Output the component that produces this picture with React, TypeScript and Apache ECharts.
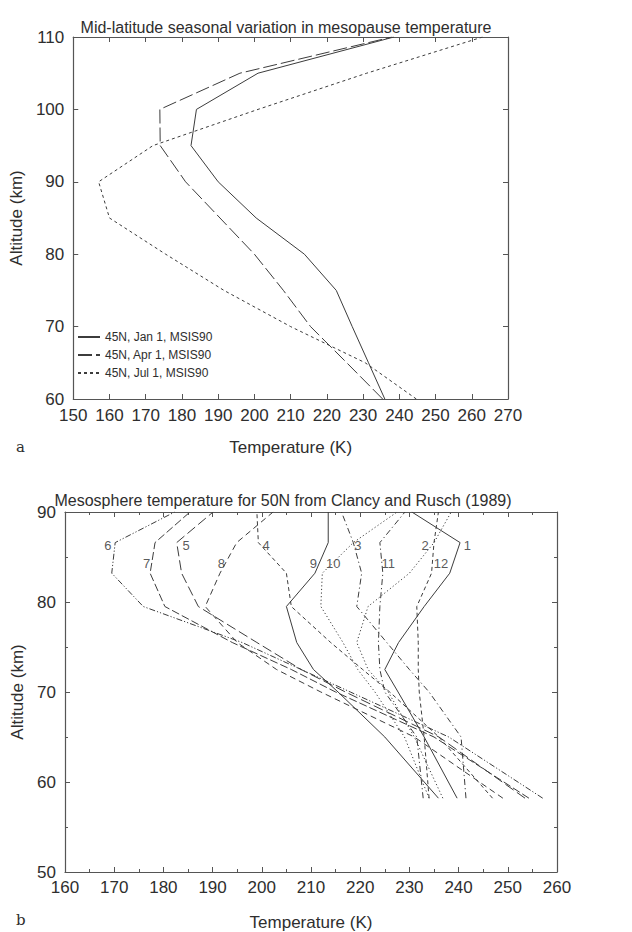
import React, { useEffect, useRef } from "react";
import * as echarts from "echarts";

// ---------- Panel a: MSIS90 45N profiles ----------
const TOP_ALT = [60, 65, 70, 75, 80, 85, 90, 95, 100, 105, 110];
const JAN_T = [236, 231.5, 227, 222.6, 213.8, 200.5, 190, 182.5, 184, 201, 238.5];
const APR_T = [235.4, 225.5, 215.5, 208, 200, 190.5, 181, 174, 173.9, 196, 238];
const JUL_T = [244.7, 230.6, 210, 191.6, 175.5, 160, 157, 172, 201, 231, 263];
const TOP_NAMES = ["45N, Jan 1, MSIS90", "45N, Apr 1, MSIS90", "45N, Jul 1, MSIS90"];

// ---------- Panel b: Clancy and Rusch (1989), 50N monthly profiles ----------
const B_ALT = [58.2, 65, 70, 72.5, 75.5, 79.5, 83.2, 86.6, 90];
const M1 = [239.7, 233, 227.7, 225, 227.8, 233, 238.2, 240.3, 230.5];
const M2 = [236.8, 231, 225.7, 221.6, 219.3, 221.6, 230, 235, 238.5];
const M3 = [241.5, 240.5, 234, 230, 225.4, 219.3, 220.3, 218.6, 216.2];
const M4 = [246.9, 236, 226, 220.5, 214, 206, 205, 199.3, 199];
const M5 = [253.5, 236, 217, 208, 199, 187.1, 183.7, 182.7, 190.1];
const M6 = [257.1, 238, 218, 208, 196, 175.9, 169.5, 170.2, 182.3];
const M7 = [254.3, 235, 215, 206, 194, 180.3, 177.3, 178.3, 185.4];
const M8 = [249, 231, 212, 203, 195, 188.5, 191.5, 194.9, 202.3];
const M9 = [235.9, 225, 215.5, 210.5, 207.1, 205, 210.8, 213.5, 213.5];
const M10 = [234, 229, 223, 219.5, 216.5, 212, 212.3, 218.6, 227.5];
const M11 = [232.8, 231.5, 225, 224, 223.7, 224, 224.6, 224, 229.1];
const M12 = [234, 233, 232, 231.8, 231.8, 231.5, 234.5, 235, 235.9];
const MONTHS = [M1, M2, M3, M4, M5, M6, M7, M8, M9, M10, M11, M12];
const MONTH_NAMES = ["1", "2", "3", "4", "5", "6", "7", "8", "9", "10", "11", "12"];
// label anchor positions (temperature K, altitude km)
const LABEL_T = [241.8, 233.2, 219.5, 200.9, 184.6, 168.7, 176.6, 191.8, 210.5, 214.5, 225.7, 236.4];
const LABEL_ALT = [86.3, 86.3, 86.3, 86.3, 86.3, 86.3, 84.3, 84.3, 84.3, 84.3, 84.3, 84.3];

const FONT = "'Liberation Sans', Arial, Helvetica, sans-serif";
const INK = "#3c3c3c";
const TXT = "#2e2e2e";

const DASHES: any[] = [
  "solid",
  [1.2, 2.4],
  [6, 3, 1.2, 3],
  [4, 3],
  [10, 4],
  [6, 2, 1.2, 2, 1.2, 2],
  [8, 3],
  [6, 4],
];

function zip(ts: number[], alts: number[]) {
  return ts.map((t, i) => [t, alts[i]]);
}

export default function App() {
  const ref = useRef<HTMLDivElement>(null);
  useEffect(() => {
    if (!ref.current) return;
    const chart = echarts.init(ref.current, undefined, { renderer: "svg" });

    const axisCommon = (grid: number) => ({
      gridIndex: grid,
      type: "value",
      axisLine: { show: true, onZero: false, lineStyle: { color: "#555", width: 1.2 } },
      axisTick: { show: true, inside: true, length: 5, lineStyle: { color: "#555" } },
      splitLine: { show: false },
    });

    const topSeries = [JAN_T, APR_T, JUL_T].map((ts, i) => ({
      name: TOP_NAMES[i],
      type: "line",
      xAxisIndex: 0,
      yAxisIndex: 0,
      symbol: "none",
      data: zip(ts, TOP_ALT),
      lineStyle: {
        color: INK,
        width: 1,
        type: i === 0 ? "solid" : i === 1 ? [14, 4] : [3, 3],
      },
      itemStyle: { color: INK },
    }));

    const bottomSeries = MONTHS.map((ts, i) => ({
      name: "M" + MONTH_NAMES[i],
      type: "line",
      xAxisIndex: 2,
      yAxisIndex: 2,
      symbol: "none",
      data: zip(ts, B_ALT),
      lineStyle: { color: INK, width: 1, type: DASHES[i % 8] },
      itemStyle: { color: INK },
    }));

    const labelSeries = {
      name: "month labels",
      type: "scatter",
      xAxisIndex: 2,
      yAxisIndex: 2,
      symbolSize: 0,
      itemStyle: { color: "#ffffff" },
      data: LABEL_T.map((t, i) => ({ value: [t, LABEL_ALT[i]], name: MONTH_NAMES[i] })),
      label: {
        show: true,
        position: "inside",
        formatter: (p: any) => p.name,
        fontFamily: FONT,
        fontSize: 13,
        color: TXT,
        textBorderWidth: 0,
        textBorderColor: "transparent",
      },
      silent: true,
    };

    chart.setOption({
      animation: false,
      backgroundColor: "#ffffff",
      textStyle: { fontFamily: FONT },
      title: [
        {
          text: "Mid-latitude seasonal variation in mesopause temperature",
          left: 281,
          top: 14,
          textAlign: "center",
          textStyle: { fontFamily: FONT, fontSize: 16, fontWeight: "normal", color: TXT },
        },
        {
          text: "Mesosphere temperature for 50N from Clancy and Rusch (1989)",
          left: 278,
          top: 487,
          textAlign: "center",
          textStyle: { fontFamily: FONT, fontSize: 16, fontWeight: "normal", color: TXT },
        },
      ],
      legend: {
        data: TOP_NAMES,
        orient: "vertical",
        left: 72,
        top: 326,
        itemWidth: 22,
        itemHeight: 2,
        itemGap: 6,
        itemStyle: { color: "transparent", borderColor: "transparent", borderWidth: 0 },
        textStyle: { fontFamily: FONT, fontSize: 12, color: TXT },
      },
      grid: [
        { left: 57, top: 37, width: 451, height: 362 },
        { left: 65, top: 512, width: 492, height: 360 },
      ],
      xAxis: [
        {
          ...axisCommon(0),
          position: "bottom",
          min: 150,
          max: 270,
          interval: 10,
          axisLabel: { fontFamily: FONT, fontSize: 17, color: TXT, margin: 8 },
          name: "Temperature (K)",
          nameLocation: "middle",
          nameGap: 40,
          nameTextStyle: { fontFamily: FONT, fontSize: 17, color: TXT },
        },
        {
          ...axisCommon(0),
          position: "top",
          min: 150,
          max: 270,
          interval: 10,
          axisLabel: { show: false },
        },
        {
          ...axisCommon(1),
          position: "bottom",
          min: 160,
          max: 260,
          interval: 10,
          minorTick: { show: true, splitNumber: 2, length: 3, lineStyle: { color: "#555" } },
          axisLabel: { fontFamily: FONT, fontSize: 17, color: TXT, margin: 7 },
          name: "Temperature (K)",
          nameLocation: "middle",
          nameGap: 42,
          nameTextStyle: { fontFamily: FONT, fontSize: 17, color: TXT },
        },
        {
          ...axisCommon(1),
          position: "top",
          min: 160,
          max: 260,
          interval: 10,
          minorTick: { show: true, splitNumber: 2, length: 3, lineStyle: { color: "#555" } },
          axisLabel: { show: false },
        },
      ],
      yAxis: [
        {
          ...axisCommon(0),
          position: "left",
          min: 60,
          max: 110,
          interval: 10,
          axisLabel: { fontFamily: FONT, fontSize: 17, color: TXT, margin: 9 },
          name: "Altitude (km)",
          nameLocation: "middle",
          nameGap: 27,
          nameRotate: 90,
          nameTextStyle: { fontFamily: FONT, fontSize: 17, color: TXT },
        },
        {
          ...axisCommon(0),
          position: "right",
          min: 60,
          max: 110,
          interval: 10,
          axisLabel: { show: false },
        },
        {
          ...axisCommon(1),
          position: "left",
          min: 50,
          max: 90,
          interval: 10,
          minorTick: { show: true, splitNumber: 2, length: 3, lineStyle: { color: "#555" } },
          axisLabel: { fontFamily: FONT, fontSize: 17, color: TXT, margin: 9, padding: [0, 0, 6, 0] },
          name: "Altitude (km)",
          nameLocation: "middle",
          nameGap: 33,
          nameRotate: 90,
          nameTextStyle: { fontFamily: FONT, fontSize: 17, color: TXT },
        },
        {
          ...axisCommon(1),
          position: "right",
          min: 50,
          max: 90,
          interval: 10,
          minorTick: { show: true, splitNumber: 2, length: 3, lineStyle: { color: "#555" } },
          axisLabel: { show: false },
        },
      ],
      graphic: [
        {
          type: "text",
          left: 16,
          top: 439,
          style: { text: "a", fontFamily: "'DejaVu Serif', 'Liberation Serif', serif", fontSize: 15, fill: TXT },
        },
        {
          type: "text",
          left: 16,
          top: 912,
          style: { text: "b", fontFamily: "'DejaVu Serif', 'Liberation Serif', serif", fontSize: 15, fill: TXT },
        },
      ],
      series: [...topSeries, ...bottomSeries, labelSeries],
    });

    return () => chart.dispose();
  }, []);

  return (
    <div
      ref={ref}
      style={{ position: "fixed", left: 0, top: 0, width: 632, height: 932, background: "#fff" }}
    />
  );
}
